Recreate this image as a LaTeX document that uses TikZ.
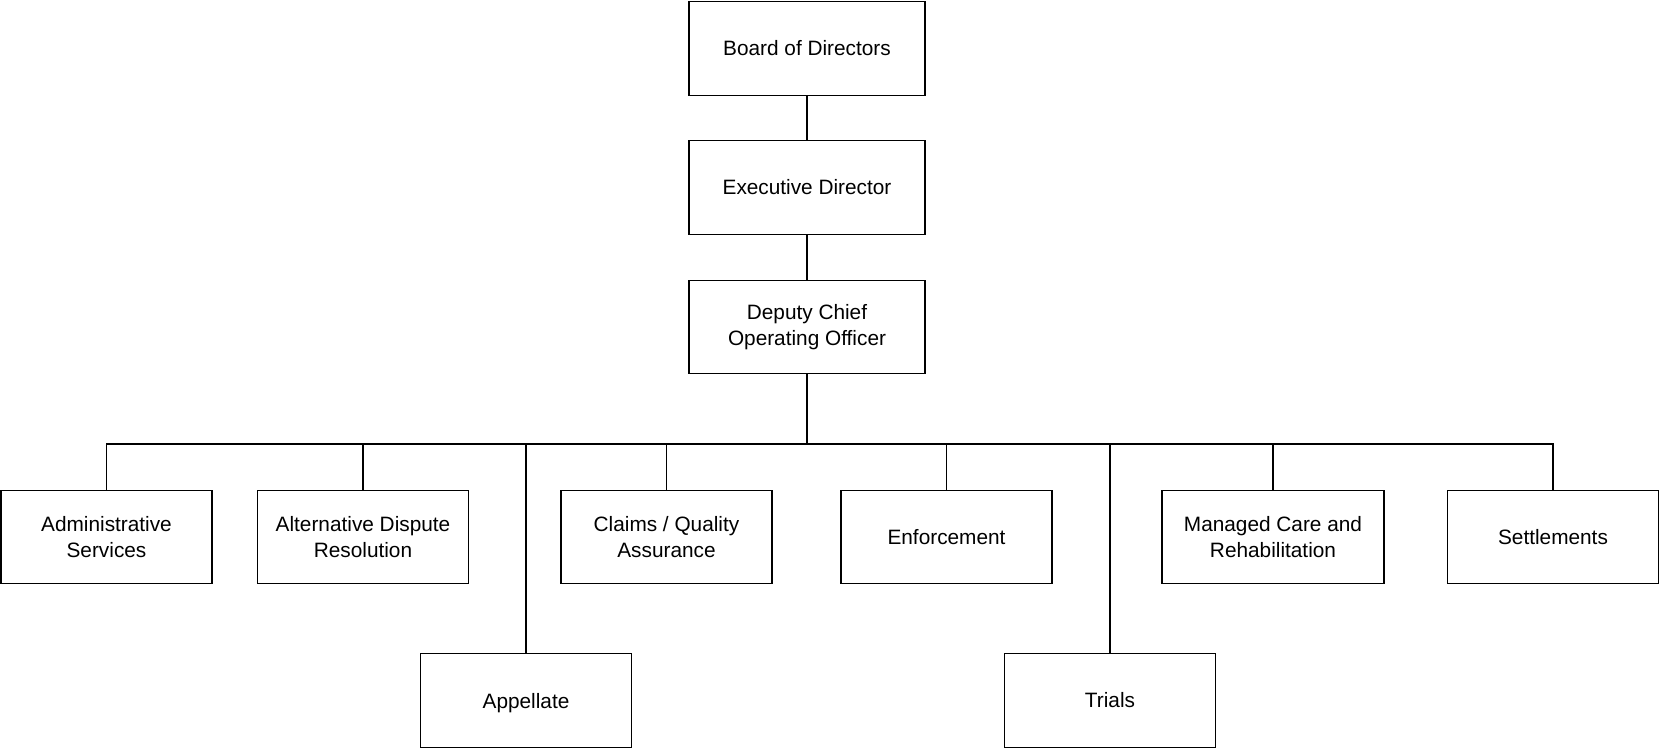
\documentclass[tikz,border=0pt]{standalone}
\usepackage{fontspec}
\setmainfont{Liberation Sans}
\begin{document}
\begin{tikzpicture}[x=0.5pt,y=-0.5pt,
  unit/.style={draw=black,line width=0.6pt,minimum width=105.5pt,minimum height=46.8pt,
    inner sep=1pt,align=center,font=\fontsize{10.4}{13}\selectfont},
  wide/.style={unit,minimum width=111pt},
  head/.style={unit,minimum width=118pt},
  link/.style={draw=black,line width=0.6pt}]
\useasboundingbox (0,0) rectangle (1659,748);
\pgfmathsetmacro{\rowy}{537}
\pgfmathsetmacro{\lowy}{700.5}
% top of the chart
\node[head] (board) at (807,48.5) {Board of Directors};
\node[head] (exec) at (807,187.5) {Executive Director};
\node[head] (dcoo) at (807,327) {Deputy Chief\\Operating Officer};
% units
\node[unit] (admin) at (106.5,\rowy) {Administrative\\Services};
\node[unit] (adr) at (363,\rowy) {Alternative Dispute\\Resolution};
\node[unit,text depth=0pt] (appellate) at (526,\lowy) {Appellate};
\node[unit] (claims) at (666.5,\rowy) {Claims / Quality\\Assurance};
\node[unit] (enforce) at (946.5,\rowy) {Enforcement};
\node[unit] (trials) at (1110,\lowy) {Trials};
\node[wide] (managed) at (1273,\rowy) {Managed Care and\\Rehabilitation};
\node[unit] (settle) at (1553,\rowy) {Settlements};
\coordinate (bus) at (807,444);
\draw[link] (board) -- (exec);
\draw[link] (exec) -- (dcoo);
\draw[link] (dcoo) -- (bus);
\foreach \n in {admin,adr,appellate,claims,enforce,trials,managed,settle}
  \draw[link] (\n.north) |- (bus);
\end{tikzpicture}
\end{document}
